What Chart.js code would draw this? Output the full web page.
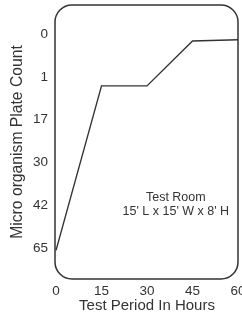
<!DOCTYPE html>
<html>
<head>
<meta charset="utf-8">
<script src="https://cdn.jsdelivr.net/npm/chart.js@4/dist/chart.umd.min.js"></script>
<style>
  html, body { margin: 0; padding: 0; background: #fff; }
  #wrap { width: 242px; height: 315px; }
</style>
</head>
<body>
<div id="wrap"><canvas id="c"></canvas></div>
<script>
// hours on the x axis
const hours = [0, 15, 30, 45, 60];
// y labels are not linear, so the series is kept in tick-slot units (0 = top label)
const countLabels = ["0", "1", "17", "30", "42", "65"];
const countSlot = [5.05, 1.21, 1.21, 0.16, 0.13];
const noteLines = ["Test Room", "15' L x 15' W x 8' H"];

const ink = "#333";
const font = "'Liberation Sans', Arial, sans-serif";

const frame = {
  id: "frame",
  afterDraw(chart) {
    const { ctx, chartArea: a, scales } = chart;
    ctx.save();
    ctx.strokeStyle = ink;
    ctx.lineWidth = 1.5;
    ctx.beginPath();
    ctx.roundRect(a.left - 1, a.top, a.right - a.left + 1, a.bottom - a.top, 17);
    ctx.stroke();
    ctx.fillStyle = ink;
    ctx.font = "12.5px " + font;
    ctx.textAlign = "center";
    ctx.textBaseline = "middle";
    const x = scales.x.getPixelForValue(39.5);
    ctx.fillText(noteLines[0], x, scales.y.getPixelForValue(3.81));
    ctx.fillText(noteLines[1], x, scales.y.getPixelForValue(4.14));
    ctx.restore();
  }
};

new Chart(document.getElementById("c"), {
  type: "line",
  data: {
    datasets: [{
      data: hours.map((h, i) => ({ x: h, y: countSlot[i] })),
      borderColor: ink,
      borderWidth: 1.4,
      pointRadius: 0,
      tension: 0,
      clip: false
    }]
  },
  options: {
    responsive: true,
    maintainAspectRatio: false,
    animation: false,
    layout: { padding: { top: 5, right: 4, left: 0, bottom: 0 } },
    plugins: { legend: { display: false }, tooltip: { enabled: false } },
    scales: {
      x: {
        type: "linear",
        min: 0,
        max: 60,
        grid: { display: false, drawTicks: false },
        border: { display: false },
        afterBuildTicks(s) { s.ticks = hours.map(v => ({ value: v })); },
        afterFit(s) { s.height = 36; s.paddingLeft = 0; s.paddingRight = 0; },
        ticks: { color: ink, padding: 4, maxRotation: 0, font: { family: font, size: 13.5 } },
        title: {
          display: true,
          text: "Test Period In Hours",
          color: ink,
          padding: { top: 0, bottom: 0 },
          font: { family: font, size: 15 }
        }
      },
      y: {
        type: "linear",
        reverse: true,
        min: -0.68,
        max: 5.72,
        grid: { display: false, drawTicks: false },
        border: { display: false },
        afterBuildTicks(s) { s.ticks = countLabels.map((l, i) => ({ value: i })); },
        afterFit(s) { s.width = 56; s.paddingTop = 0; s.paddingBottom = 0; },
        ticks: {
          color: ink,
          padding: 8,
          font: { family: font, size: 13.5 },
          callback: (v) => countLabels[v]
        },
        title: {
          display: true,
          text: "Micro organism Plate Count",
          color: ink,
          padding: { top: 8, bottom: 0 },
          font: { family: font, size: 15.7 }
        }
      }
    }
  },
  plugins: [frame]
});
</script>
</body>
</html>
